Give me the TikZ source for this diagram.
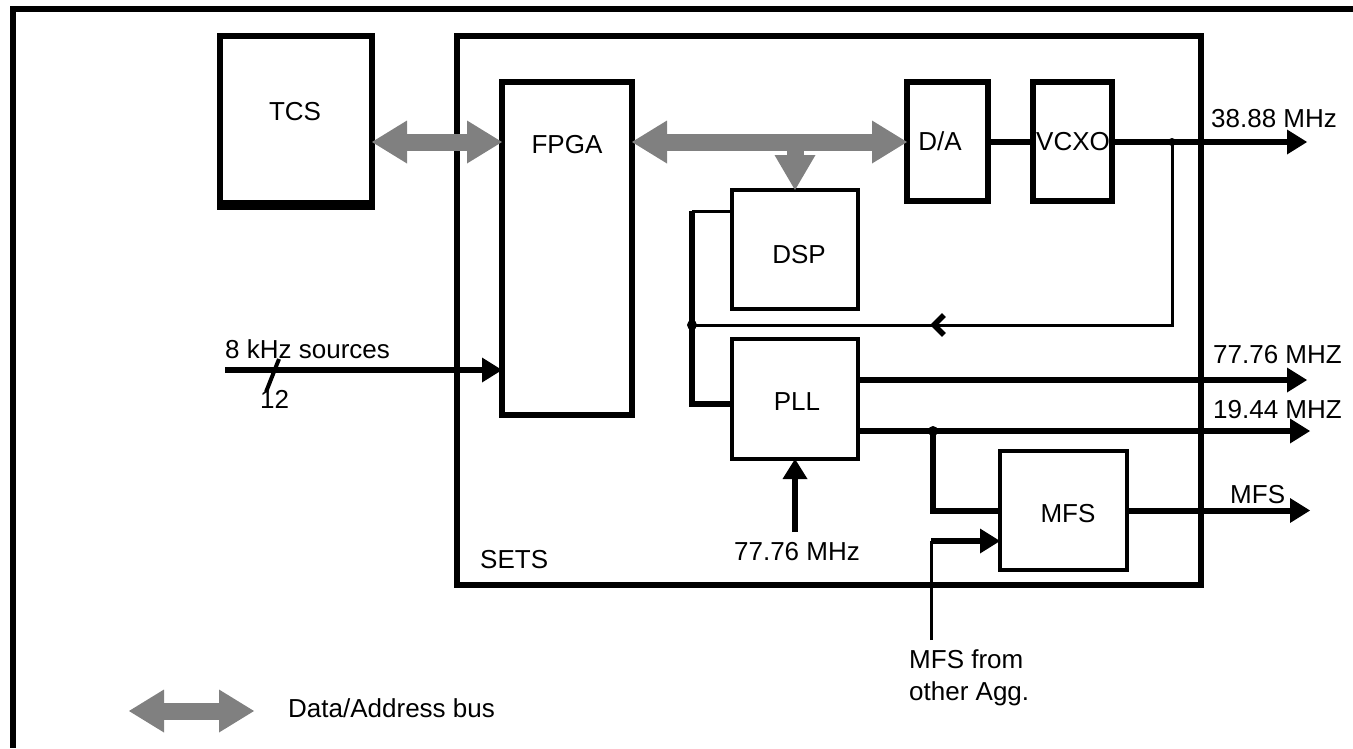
\documentclass[tikz,border=0pt]{standalone}
\usepackage{fontspec}
\setmainfont{Liberation Sans}
\usetikzlibrary{arrows.meta,decorations.markings}
\definecolor{busgray}{RGB}{128,128,128}
\begin{document}
\begin{tikzpicture}[x=1pt,y=-1pt,
  blk/.style={draw, line width=#1, inner sep=0pt, outer sep=0pt},
  lbl/.style={inner sep=0pt, font=\fontsize{26}{31}\selectfont, anchor=base},
  bus/.style={draw=busgray, line width=17pt,
    {Triangle[length=35pt,width=43pt,line width=0pt]}-{Triangle[length=35pt,width=43pt,line width=0pt]}},
  busdown/.style={draw=busgray, line width=17pt, -{Triangle[length=35pt,width=41pt,line width=0pt]}},
  sig/.style={line width=6pt, -{Triangle[length=20pt,width=25pt,line width=0pt]}},
  wire/.style={line width=6pt},
  thinw/.style={line width=3pt},
]
\useasboundingbox (0,0) rectangle (1353,748);
% outer frame
\coordinate (fr1) at (1353,9);
\coordinate (fr2) at (13,9);
\coordinate (fr3) at (13,748);
\draw[line width=6pt] (fr1) -- (fr2) -- (fr3);

% boxes
\node[blk=6pt, minimum width=152pt, minimum height=169pt] (TCS) at (296,120.5) {};
\draw[line width=10pt] ([xshift=-3pt]TCS.south west) -- ([xshift=3pt]TCS.south east);
\node[blk=6pt, minimum width=744pt, minimum height=549pt] (SETS) at (829,310.5) {};
\node[blk=6pt, minimum width=130pt, minimum height=333pt] (FPGA) at (567,248.5) {};
\node[blk=6pt, minimum width=81pt, minimum height=119pt] (DA) at (947.5,141.5) {};
\node[blk=6pt, minimum width=79pt, minimum height=119pt] (VCXO) at (1072.5,141.5) {};
\node[blk=4.5pt, minimum width=126pt, minimum height=119pt] (DSP) at (795,249.5) {};
\node[blk=4.5pt, minimum width=126pt, minimum height=120pt] (PLL) at (795,399) {};
\node[blk=4.5pt, minimum width=127pt, minimum height=119pt] (MFS) at (1063.5,510.5) {};

% labels
\node[lbl] (tTCS) at (295,120) {TCS};
\node[lbl] (tFPGA) at (567,153) {FPGA};
\node[lbl] (tDA) at (940,150) {D/A};
\node[lbl] (tVCXO) at (1073,150) {VCXO};
\node[lbl] (tDSP) at (799,263) {DSP};
\node[lbl] (tPLL) at (797,410) {PLL};
\node[lbl] (tMFS) at (1068,522) {MFS};
\node[lbl, anchor=base west] (tSETS) at (480,568) {SETS};
\node[lbl, anchor=base west] (t8k) at (225,358) {8 kHz sources};
\node[lbl, anchor=base west] (t12) at (260,408) {12};
\node[lbl, anchor=base west] (t3888) at (1211,127) {38.88 MHz};
\node[lbl, anchor=base west] (t7776o) at (1213,363) {77.76 MHZ};
\node[lbl, anchor=base west] (t1944) at (1213,418) {19.44 MHZ};
\node[lbl, anchor=base west] (tMFSo) at (1230,503) {MFS};
\node[lbl] (t7776i) at (797,560) {77.76 MHz};
\node[lbl, anchor=base west] (tAgg1) at (909,668) {MFS from};
\node[lbl, anchor=base west] (tAgg2) at (909,700) {other Agg.};
\node[lbl, anchor=base west] (tLeg) at (288,717) {Data/Address bus};

% buses
\coordinate (busline) at (0,142);
\draw[busdown] (DSP.north |- busline) -- (DSP.north);
\draw[bus] (TCS.east |- busline) -- (FPGA.west |- busline);
\draw[bus] (FPGA.east |- busline) -- (DA.west |- busline);

% D/A - VCXO - output
\draw[wire] (DA.east) -- (VCXO.west);
\coordinate (o1) at (1307,142);
\draw[sig] (VCXO.east |- o1) -- (o1);
\coordinate (J1) at (1172,142);
\fill (J1) circle (4pt);

% feedback loop
\coordinate (Lk) at (692,211);
\coordinate (Lj) at (692,325);
\coordinate (Lb) at (692,404);
\draw[thinw, postaction={decorate}, decoration={markings,
   mark=at position 425pt with {\arrow{Straight Barb[length=10pt,width=20pt,line width=5.5pt]}}}]
   (J1) |- (Lj);
\draw[thinw] (DSP.west |- Lk) -- (Lk);
\draw[wire] (Lk) -- (Lb) -- (PLL.west |- Lb);
\fill (Lj) circle (5pt);

% PLL outputs
\coordinate (o2) at (1307,380);
\coordinate (o3) at (1310,431);
\draw[sig] (PLL.east |- o2) -- (o2);
\draw[sig] (PLL.east |- o3) -- (o3);
\coordinate (J2) at (933,431);
\fill (J2) circle (5pt);
\draw[wire] (J2) |- (MFS.west);

% MFS output
\coordinate (o4) at (1310,510.5);
\draw[sig] (MFS.east) -- (o4);

% MFS from other Agg.
\coordinate (a1) at (931,640);
\coordinate (a2) at (931,541);
\draw[thinw] (a1) -- (a2);
\draw[sig] (a2) -- (MFS.west |- a2);

% 77.76 MHz input to PLL
\coordinate (i1) at (795,532);
\draw[sig] (i1) -- (PLL.south);

% 8 kHz sources
\coordinate (k1) at (225,370);
\draw[sig] (k1) -- (FPGA.west |- k1);
\coordinate (s1) at (279,359);
\coordinate (s2) at (266,392);
\draw[line width=4pt] (s1) -- (s2);

% legend
\coordinate (lg1) at (129,711);
\coordinate (lg2) at (254,711);
\draw[bus] (lg1) -- (lg2);
\end{tikzpicture}
\end{document}
